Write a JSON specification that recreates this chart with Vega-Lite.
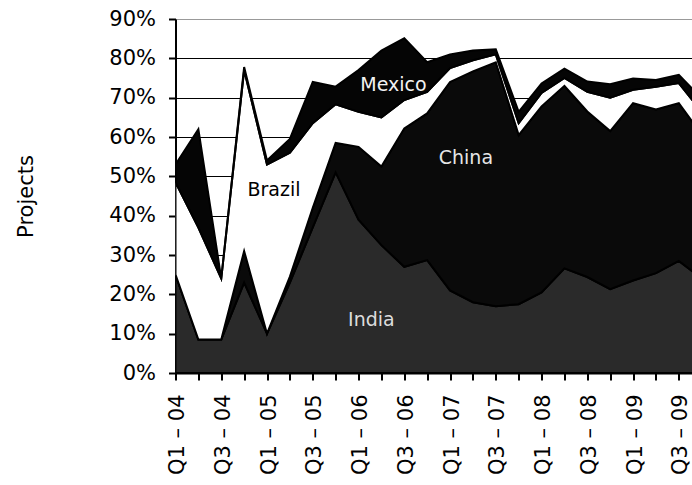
{
  "$schema": "https://vega.github.io/schema/vega-lite/v6.json",
  "width": 516.5,
  "height": 354,
  "autosize": {"type": "none"},
  "padding": {"left": 175.5, "top": 19, "right": 0, "bottom": 112},
  "background": "white",
  "config": {"view": {"stroke": null}, "font": "DejaVu Sans"},
  "data": {"values": [
    {"quarter": "Q1 – 04", "country": "India", "share": 25},
    {"quarter": "Q1 – 04", "country": "China", "share": 0},
    {"quarter": "Q1 – 04", "country": "Brazil", "share": 23.5},
    {"quarter": "Q1 – 04", "country": "Mexico", "share": 4.5},
    {"quarter": "Q2 – 04", "country": "India", "share": 8.5},
    {"quarter": "Q2 – 04", "country": "China", "share": 0},
    {"quarter": "Q2 – 04", "country": "Brazil", "share": 28.5},
    {"quarter": "Q2 – 04", "country": "Mexico", "share": 25},
    {"quarter": "Q3 – 04", "country": "India", "share": 8.5},
    {"quarter": "Q3 – 04", "country": "China", "share": 0},
    {"quarter": "Q3 – 04", "country": "Brazil", "share": 15.5},
    {"quarter": "Q3 – 04", "country": "Mexico", "share": 0},
    {"quarter": "Q4 – 04", "country": "India", "share": 23},
    {"quarter": "Q4 – 04", "country": "China", "share": 8},
    {"quarter": "Q4 – 04", "country": "Brazil", "share": 46},
    {"quarter": "Q4 – 04", "country": "Mexico", "share": 0.8},
    {"quarter": "Q1 – 05", "country": "India", "share": 10},
    {"quarter": "Q1 – 05", "country": "China", "share": 0},
    {"quarter": "Q1 – 05", "country": "Brazil", "share": 43},
    {"quarter": "Q1 – 05", "country": "Mexico", "share": 1},
    {"quarter": "Q2 – 05", "country": "India", "share": 23},
    {"quarter": "Q2 – 05", "country": "China", "share": 1.5},
    {"quarter": "Q2 – 05", "country": "Brazil", "share": 31.5},
    {"quarter": "Q2 – 05", "country": "Mexico", "share": 3.5},
    {"quarter": "Q3 – 05", "country": "India", "share": 37},
    {"quarter": "Q3 – 05", "country": "China", "share": 5},
    {"quarter": "Q3 – 05", "country": "Brazil", "share": 21.5},
    {"quarter": "Q3 – 05", "country": "Mexico", "share": 10.5},
    {"quarter": "Q4 – 05", "country": "India", "share": 51},
    {"quarter": "Q4 – 05", "country": "China", "share": 7.5},
    {"quarter": "Q4 – 05", "country": "Brazil", "share": 9.8},
    {"quarter": "Q4 – 05", "country": "Mexico", "share": 4.5},
    {"quarter": "Q1 – 06", "country": "India", "share": 39},
    {"quarter": "Q1 – 06", "country": "China", "share": 18.5},
    {"quarter": "Q1 – 06", "country": "Brazil", "share": 8.9},
    {"quarter": "Q1 – 06", "country": "Mexico", "share": 10.6},
    {"quarter": "Q2 – 06", "country": "India", "share": 32.5},
    {"quarter": "Q2 – 06", "country": "China", "share": 20},
    {"quarter": "Q2 – 06", "country": "Brazil", "share": 12.5},
    {"quarter": "Q2 – 06", "country": "Mexico", "share": 17},
    {"quarter": "Q3 – 06", "country": "India", "share": 27},
    {"quarter": "Q3 – 06", "country": "China", "share": 35.2},
    {"quarter": "Q3 – 06", "country": "Brazil", "share": 7.2},
    {"quarter": "Q3 – 06", "country": "Mexico", "share": 15.7},
    {"quarter": "Q4 – 06", "country": "India", "share": 28.7},
    {"quarter": "Q4 – 06", "country": "China", "share": 37.3},
    {"quarter": "Q4 – 06", "country": "Brazil", "share": 5.5},
    {"quarter": "Q4 – 06", "country": "Mexico", "share": 7.5},
    {"quarter": "Q1 – 07", "country": "India", "share": 21},
    {"quarter": "Q1 – 07", "country": "China", "share": 53},
    {"quarter": "Q1 – 07", "country": "Brazil", "share": 3.5},
    {"quarter": "Q1 – 07", "country": "Mexico", "share": 3.5},
    {"quarter": "Q2 – 07", "country": "India", "share": 18},
    {"quarter": "Q2 – 07", "country": "China", "share": 58.7},
    {"quarter": "Q2 – 07", "country": "Brazil", "share": 2.8},
    {"quarter": "Q2 – 07", "country": "Mexico", "share": 2.5},
    {"quarter": "Q3 – 07", "country": "India", "share": 17},
    {"quarter": "Q3 – 07", "country": "China", "share": 62},
    {"quarter": "Q3 – 07", "country": "Brazil", "share": 2},
    {"quarter": "Q3 – 07", "country": "Mexico", "share": 1.3},
    {"quarter": "Q4 – 07", "country": "India", "share": 17.5},
    {"quarter": "Q4 – 07", "country": "China", "share": 43},
    {"quarter": "Q4 – 07", "country": "Brazil", "share": 3},
    {"quarter": "Q4 – 07", "country": "Mexico", "share": 2.9},
    {"quarter": "Q1 – 08", "country": "India", "share": 20.5},
    {"quarter": "Q1 – 08", "country": "China", "share": 47.3},
    {"quarter": "Q1 – 08", "country": "Brazil", "share": 3.4},
    {"quarter": "Q1 – 08", "country": "Mexico", "share": 2.4},
    {"quarter": "Q2 – 08", "country": "India", "share": 26.6},
    {"quarter": "Q2 – 08", "country": "China", "share": 46.4},
    {"quarter": "Q2 – 08", "country": "Brazil", "share": 2},
    {"quarter": "Q2 – 08", "country": "Mexico", "share": 2.4},
    {"quarter": "Q3 – 08", "country": "India", "share": 24.4},
    {"quarter": "Q3 – 08", "country": "China", "share": 42.1},
    {"quarter": "Q3 – 08", "country": "Brazil", "share": 5},
    {"quarter": "Q3 – 08", "country": "Mexico", "share": 2.6},
    {"quarter": "Q4 – 08", "country": "India", "share": 21.3},
    {"quarter": "Q4 – 08", "country": "China", "share": 40.2},
    {"quarter": "Q4 – 08", "country": "Brazil", "share": 8.5},
    {"quarter": "Q4 – 08", "country": "Mexico", "share": 3.4},
    {"quarter": "Q1 – 09", "country": "India", "share": 23.5},
    {"quarter": "Q1 – 09", "country": "China", "share": 45.1},
    {"quarter": "Q1 – 09", "country": "Brazil", "share": 3.4},
    {"quarter": "Q1 – 09", "country": "Mexico", "share": 2.9},
    {"quarter": "Q2 – 09", "country": "India", "share": 25.4},
    {"quarter": "Q2 – 09", "country": "China", "share": 41.6},
    {"quarter": "Q2 – 09", "country": "Brazil", "share": 5.8},
    {"quarter": "Q2 – 09", "country": "Mexico", "share": 1.7},
    {"quarter": "Q3 – 09", "country": "India", "share": 28.5},
    {"quarter": "Q3 – 09", "country": "China", "share": 40.1},
    {"quarter": "Q3 – 09", "country": "Brazil", "share": 5.1},
    {"quarter": "Q3 – 09", "country": "Mexico", "share": 2.1},
    {"quarter": "Q4 – 09", "country": "India", "share": 24},
    {"quarter": "Q4 – 09", "country": "China", "share": 36.6},
    {"quarter": "Q4 – 09", "country": "Brazil", "share": 5.8},
    {"quarter": "Q4 – 09", "country": "Mexico", "share": 3.4}
  ]},
  "encoding": {
    "x": {
      "field": "quarter", "type": "ordinal",
      "scale": {"type": "point", "padding": 0, "range": [0, 526.2],
        "domain": ["Q1 – 04","Q2 – 04","Q3 – 04","Q4 – 04","Q1 – 05","Q2 – 05","Q3 – 05","Q4 – 05","Q1 – 06","Q2 – 06","Q3 – 06","Q4 – 06","Q1 – 07","Q2 – 07","Q3 – 07","Q4 – 07","Q1 – 08","Q2 – 08","Q3 – 08","Q4 – 08","Q1 – 09","Q2 – 09","Q3 – 09","Q4 – 09"]},
      "axis": {
        "title": null, "grid": false, "labelAngle": -90, "labelAlign": "right", "labelBaseline": "middle",
        "labelFont": "DejaVu Sans", "labelFontSize": 21, "labelColor": "black", "labelPadding": 14, "labelOffset": 2,
        "labelOverlap": false, "labelBound": false,
        "labelExpr": "(indexof(datum.value, 'Q1') == 0 || indexof(datum.value, 'Q3') == 0) ? datum.value : ''",
        "tickSize": 7, "tickColor": "black", "tickWidth": 2, "domainColor": "black", "domainWidth": 2
      }
    },
    "y": {
      "field": "share", "type": "quantitative",
      "scale": {"domain": [0, 90], "nice": false, "zero": true},
      "axis": {
        "title": "Projects", "titleFont": "DejaVu Sans", "titleFontSize": 21, "titleFontWeight": "normal", "titleColor": "black", "titlePadding": 72,
        "values": [0, 10, 20, 30, 40, 50, 60, 70, 80, 90],
        "tickCount": 10,
        "labelExpr": "datum.value + '%'", "labelFont": "DejaVu Sans", "labelFontSize": 21, "labelColor": "black", "labelPadding": 13,
        "labelOverlap": false, "labelBound": false, "labelFlush": false,
        "tickSize": 7, "tickColor": "black", "tickWidth": 2, "domainColor": "black", "domainWidth": 2,
        "grid": true, "gridWidth": 1.2,
        "gridColor": {"condition": {"test": "datum.value >= 90", "value": "#999999"}, "value": "black"}
      }
    }
  },
  "layer": [
    {
      "transform": [{"calculate": "indexof(['India', 'China', 'Brazil', 'Mexico'], datum.country)", "as": "stackOrder"}],
      "mark": {"type": "area", "clip": true, "stroke": "black", "strokeWidth": 2, "strokeJoin": "miter", "interpolate": "linear"},
      "encoding": {
        "color": {
          "field": "country", "type": "nominal",
          "scale": {"domain": ["India", "China", "Brazil", "Mexico"], "range": ["#2a2a2a", "#0a0a0a", "#ffffff", "#050505"]},
          "legend": null
        },
        "order": {"field": "stackOrder", "type": "quantitative", "sort": "ascending"}
      }
    },
    {
      "data": {"values": [{"label": "Mexico", "quarter": "Q2 – 06", "share": 73.2}]},
      "mark": {"type": "text", "dx": 12, "fontSize": 19, "font": "DejaVu Sans", "color": "#f2f2f2", "baseline": "middle"},
      "encoding": {"text": {"field": "label"}}
    },
    {
      "data": {"values": [{"label": "China", "quarter": "Q2 – 07", "share": 54.7}]},
      "mark": {"type": "text", "dx": -7, "fontSize": 19, "font": "DejaVu Sans", "color": "#e6e6e6", "baseline": "middle"},
      "encoding": {"text": {"field": "label"}}
    },
    {
      "data": {"values": [{"label": "Brazil", "quarter": "Q1 – 05", "share": 46.5}]},
      "mark": {"type": "text", "dx": 7, "fontSize": 19, "font": "DejaVu Sans", "color": "black", "baseline": "middle"},
      "encoding": {"text": {"field": "label"}}
    },
    {
      "data": {"values": [{"label": "India", "quarter": "Q2 – 06", "share": 13.5}]},
      "mark": {"type": "text", "dx": -10, "fontSize": 19, "font": "DejaVu Sans", "color": "#dddddd", "baseline": "middle"},
      "encoding": {"text": {"field": "label"}}
    }
  ]
}
